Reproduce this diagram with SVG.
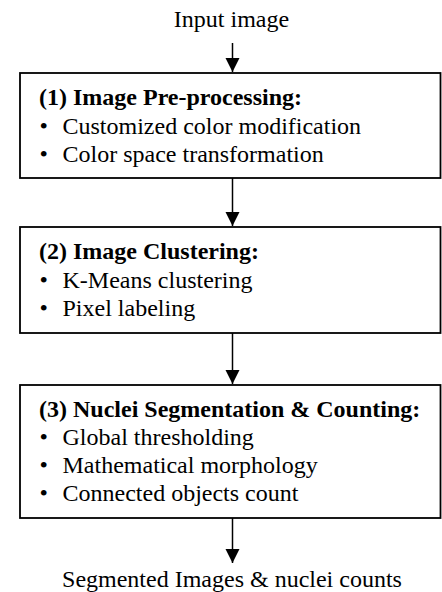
<svg xmlns="http://www.w3.org/2000/svg" width="442" height="592" viewBox="0 0 442 592">
<style>
  text { font-family: "Liberation Serif", "Times New Roman", serif; font-size: 24px; fill: #000; }
  .h { font-weight: bold; }
  .box { fill: #fff; stroke: #000; stroke-width: 1.8; }
  .conn { stroke: #000; stroke-width: 1.5; fill: none; }
</style>
<defs>
  <marker id="ah" markerUnits="userSpaceOnUse" markerWidth="14" markerHeight="16" refX="14" refY="7" orient="auto">
    <path d="M0,0 L14,7 L0,14 Z" fill="#000"/>
  </marker>
</defs>
<rect width="442" height="592" fill="#fff"/>
<g id="input">
  <text x="231.5" y="27" text-anchor="middle">Input image</text>
</g>
<g id="step1">
  <rect class="box" x="20" y="73" width="420.5" height="105"/>
  <text class="h" x="39" y="105">(1) Image Pre-processing:</text>
  <text x="39.5" y="134">•</text>
  <text x="62.5" y="134">Customized color modification</text>
  <text x="39.5" y="162">•</text>
  <text x="62.5" y="162">Color space transformation</text>
</g>
<g id="step2">
  <rect class="box" x="20" y="227" width="420.5" height="106"/>
  <text class="h" x="39" y="259">(2) Image Clustering:</text>
  <text x="39.5" y="288">•</text>
  <text x="62.5" y="288">K-Means clustering</text>
  <text x="39.5" y="316">•</text>
  <text x="62.5" y="316">Pixel labeling</text>
</g>
<g id="step3">
  <rect class="box" x="20" y="385" width="420.5" height="133"/>
  <text class="h" x="39" y="417">(3) Nuclei Segmentation &amp; Counting:</text>
  <text x="39.5" y="445">•</text>
  <text x="62.5" y="445">Global thresholding</text>
  <text x="39.5" y="473">•</text>
  <text x="62.5" y="473">Mathematical morphology</text>
  <text x="39.5" y="501">•</text>
  <text x="62.5" y="501">Connected objects count</text>
</g>
<g id="output">
  <text x="232" y="587" text-anchor="middle">Segmented Images &amp; nuclei counts</text>
</g>
<g id="connectors">
  <line class="conn" x1="232.5" y1="43" x2="232.5" y2="72" marker-end="url(#ah)"/>
  <line class="conn" x1="232.5" y1="178" x2="232.5" y2="226" marker-end="url(#ah)"/>
  <line class="conn" x1="232.5" y1="333" x2="232.5" y2="384" marker-end="url(#ah)"/>
  <line class="conn" x1="232.5" y1="518" x2="232.5" y2="563" marker-end="url(#ah)"/>
</g>
</svg>
